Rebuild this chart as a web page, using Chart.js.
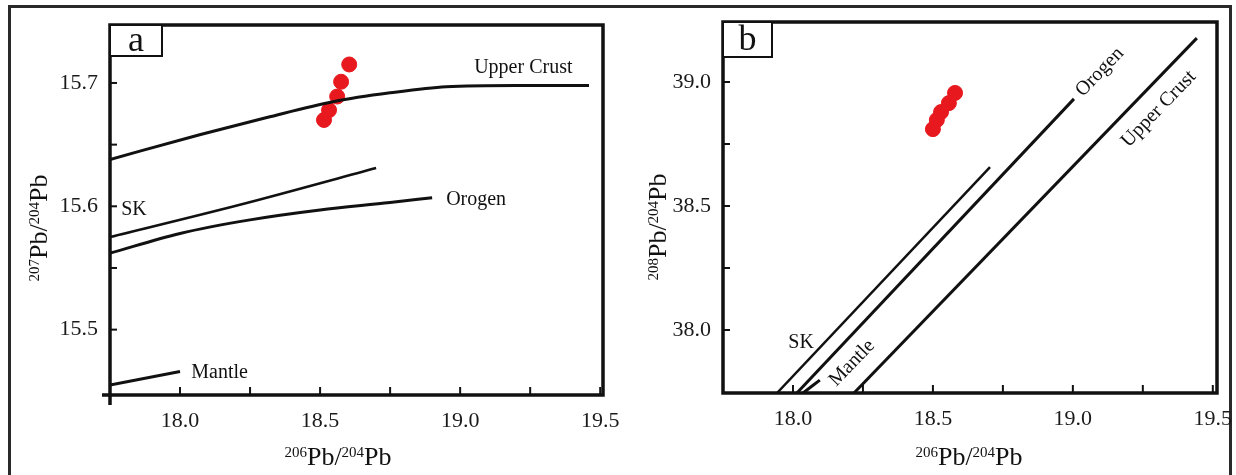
<!DOCTYPE html>
<html>
<head>
<meta charset="utf-8">
<script src="https://cdn.jsdelivr.net/npm/chart.js@4.4.0/dist/chart.umd.min.js"></script>
<style>
  html, body { margin: 0; padding: 0; background: #fff; }
  #wrap { position: relative; width: 1236px; height: 475px; overflow: hidden; }
  #border { position: absolute; left: 8px; top: 5px; width: 1218px; height: 480px; border: 3px solid #2a2a2a; }
  #ca { position: absolute; left: 0; top: 0; width: 630px; height: 475px; }
  #cb { position: absolute; left: 615px; top: 0; width: 621px; height: 475px; }
</style>
</head>
<body>
<div id="wrap">
  <div id="border"></div>
  <canvas id="ca" width="630" height="475"></canvas>
  <canvas id="cb" width="621" height="475"></canvas>
</div>
<script>
// tick values
const xTicks = [18.0, 18.5, 19.0, 19.5];
const xMinorTicks = [18.25, 18.75, 19.25];
const aYTicks = [15.5, 15.6, 15.7];
const aYMinorTicks = [15.55, 15.65];
const bYTicks = [38.0, 38.5, 39.0];
const bYMinorTicks = [38.25, 38.75];

// panel a : 206Pb/204Pb vs 207Pb/204Pb
const aSample206 = [18.514, 18.532, 18.561, 18.575, 18.604];
const aSample207 = [15.670, 15.678, 15.689, 15.701, 15.715];
const aUpperCrust206 = [17.75, 18.07, 18.31, 18.55, 18.75, 18.95, 19.2, 19.46];
const aUpperCrust207 = [15.638, 15.658, 15.672, 15.685, 15.692, 15.697, 15.698, 15.698];
const aSK206 = [17.75, 18.21, 18.70];
const aSK207 = [15.575, 15.601, 15.631];
const aOrogen206 = [17.75, 18.0, 18.25, 18.5, 18.75, 18.9];
const aOrogen207 = [15.562, 15.578, 15.589, 15.597, 15.603, 15.607];
const aMantle206 = [17.75, 18.0];
const aMantle207 = [15.455, 15.466];

// panel b : 206Pb/204Pb vs 208Pb/204Pb
const bSample206 = [18.500, 18.514, 18.529, 18.557, 18.579];
const bSample208 = [38.810, 38.847, 38.879, 38.915, 38.956];
const bUpperCrust206 = [18.218, 19.443];
const bUpperCrust208 = [37.746, 39.177];
const bSK206 = [17.943, 18.704];
const bSK208 = [37.746, 38.657];
const bOrogen206 = [18.014, 19.004];
const bOrogen208 = [37.746, 38.932];
const bMantle206 = [18.036, 18.096];
const bMantle208 = [37.746, 37.798];

const pts = (xs, ys) => xs.map((x, i) => ({ x: x, y: ys[i] }));

const SERIF = '"Liberation Serif", "DejaVu Serif", serif';
Chart.defaults.font.family = SERIF;
Chart.defaults.color = '#1a1a1a';

// title like 206Pb/204Pb with small raised mass numbers
function drawIsoTitle(ctx, parts, cx, baseY) {
  const big = '26px ' + SERIF, small = '15px ' + SERIF;
  let w = 0;
  parts.forEach(p => { ctx.font = p.sup ? small : big; w += ctx.measureText(p.t).width; });
  let x = cx - w / 2;
  ctx.textAlign = 'left';
  ctx.textBaseline = 'alphabetic';
  parts.forEach(p => {
    ctx.font = p.sup ? small : big;
    ctx.fillText(p.t, x, p.sup ? baseY - 8 : baseY);
    x += ctx.measureText(p.t).width;
  });
}

const paperPlugin = {
  id: 'paper',
  afterDraw(chart, args, opts) {
    const { ctx, chartArea: a, scales: { x, y } } = chart;
    ctx.save();
    ctx.strokeStyle = '#111';
    ctx.fillStyle = '#111';
    // ticks pointing into the plot
    ctx.lineWidth = 2;
    x.ticks.forEach(t => {
      const px = x.getPixelForValue(t.value);
      ctx.beginPath(); ctx.moveTo(px, a.bottom); ctx.lineTo(px, a.bottom - 8); ctx.stroke();
    });
    y.ticks.forEach(t => {
      const py = y.getPixelForValue(t.value);
      ctx.beginPath(); ctx.moveTo(a.left, py); ctx.lineTo(a.left + 7, py); ctx.stroke();
    });
    // frame
    ctx.lineWidth = 3.5;
    ctx.strokeRect(a.left, a.top, a.right - a.left, a.bottom - a.top);
    if (opts.cross) {
      ctx.beginPath();
      ctx.moveTo(a.left - 8, a.bottom); ctx.lineTo(a.left, a.bottom);
      ctx.moveTo(a.left, a.bottom); ctx.lineTo(a.left, a.bottom + 10);
      ctx.stroke();
    }
    // panel letter
    ctx.lineWidth = 2;
    ctx.fillStyle = '#fff';
    ctx.fillRect(a.left, a.top, opts.boxW, opts.boxH);
    ctx.strokeRect(a.left, a.top, opts.boxW, opts.boxH);
    ctx.fillStyle = '#111';
    ctx.font = '36px ' + SERIF;
    ctx.textAlign = 'center';
    ctx.textBaseline = 'middle';
    ctx.fillText(opts.letter, a.left + opts.boxW / 2, a.top + opts.boxH / 2 + 1);
    // curve names
    ctx.font = '20px ' + SERIF;
    opts.labels.forEach(l => {
      ctx.save();
      ctx.translate(x.getPixelForValue(l.x), y.getPixelForValue(l.y));
      ctx.rotate((l.rot || 0) * Math.PI / 180);
      ctx.textAlign = l.align || 'left';
      ctx.textBaseline = 'middle';
      ctx.fillText(l.text, 0, 0);
      ctx.restore();
    });
    // axis titles
    drawIsoTitle(ctx, opts.xTitle, opts.xTitleX, opts.xTitleY);
    ctx.save();
    ctx.translate(opts.yTitleX, opts.yTitleY);
    ctx.rotate(-Math.PI / 2);
    drawIsoTitle(ctx, opts.yTitle, 0, 0);
    ctx.restore();
    ctx.restore();
  }
};

function curve(data, width) {
  return {
    type: 'line', data: data, showLine: true, borderColor: '#111', borderWidth: width || 3,
    pointRadius: 0, cubicInterpolationMode: 'monotone', fill: false
  };
}

function makePanel(id, cfg) {
  const tickFont = { size: 22 };
  return new Chart(document.getElementById(id), {
    type: 'scatter',
    data: {
      datasets: [
        curve(cfg.lines[0]), curve(cfg.lines[1], 2.5), curve(cfg.lines[2]), curve(cfg.lines[3]),
        {
          type: 'scatter', data: cfg.samples, backgroundColor: '#e8191e', borderColor: '#e8191e',
          pointRadius: 7.5, pointHoverRadius: 7.5
        }
      ]
    },
    options: {
      responsive: false,
      animation: false,
      layout: { padding: cfg.padding },
      plugins: {
        legend: { display: false },
        tooltip: { enabled: false },
        paper: cfg.paper
      },
      scales: {
        x: {
          type: 'linear', min: cfg.xMin, max: cfg.xMax,
          afterFit: s => { s.height = cfg.xHeight; s.paddingLeft = 0; s.paddingRight = 0; },
          afterBuildTicks: s => {
            s.ticks = xTicks.concat(xMinorTicks).sort((p, q) => p - q).map(v => ({ value: v }));
          },
          ticks: {
            font: tickFont, padding: 13, maxRotation: 0, autoSkip: false,
            callback: v => xTicks.includes(v) ? v.toFixed(1) : ''
          },
          grid: { display: false, drawTicks: false },
          border: { display: false }
        },
        y: {
          type: 'linear', min: cfg.yMin, max: cfg.yMax,
          afterFit: s => { s.width = cfg.yWidth; s.paddingTop = 0; s.paddingBottom = 0; },
          afterBuildTicks: s => {
            s.ticks = cfg.yTicks.concat(cfg.yMinor).sort((p, q) => p - q).map(v => ({ value: v }));
          },
          ticks: {
            font: tickFont, padding: 12, autoSkip: false,
            callback: v => cfg.yTicks.includes(v) ? v.toFixed(1) : ''
          },
          grid: { display: false, drawTicks: false },
          border: { display: false }
        }
      }
    },
    plugins: [paperPlugin]
  });
}

const title206 = [{ t: '206', sup: true }, { t: 'Pb/' }, { t: '204', sup: true }, { t: 'Pb' }];

makePanel('ca', {
  xMin: 17.75, xMax: 19.51, yMin: 15.447, yMax: 15.747,
  yTicks: aYTicks, yMinor: aYMinorTicks,
  padding: { left: 0, right: 27, top: 25, bottom: 0 },
  xHeight: 80, yWidth: 110,
  lines: [pts(aUpperCrust206, aUpperCrust207), pts(aSK206, aSK207), pts(aOrogen206, aOrogen207), pts(aMantle206, aMantle207)],
  samples: pts(aSample206, aSample207),
  paper: {
    letter: 'a', boxW: 52, boxH: 31, cross: true,
    xTitle: title206, xTitleX: 338, xTitleY: 465,
    yTitle: [{ t: '207', sup: true }, { t: 'Pb/' }, { t: '204', sup: true }, { t: 'Pb' }],
    yTitleX: 47, yTitleY: 228,
    labels: [
      { text: 'Upper Crust', x: 19.05, y: 15.712 },
      { text: 'Orogen', x: 18.95, y: 15.605 },
      { text: 'SK', x: 17.79, y: 15.597 },
      { text: 'Mantle', x: 18.04, y: 15.465 }
    ]
  }
});

makePanel('cb', {
  xMin: 17.75, xMax: 19.515, yMin: 37.746, yMax: 39.242,
  yTicks: bYTicks, yMinor: bYMinorTicks,
  padding: { left: 0, right: 19, top: 22, bottom: 0 },
  xHeight: 82, yWidth: 108,
  lines: [pts(bUpperCrust206, bUpperCrust208), pts(bSK206, bSK208), pts(bOrogen206, bOrogen208), pts(bMantle206, bMantle208)],
  samples: pts(bSample206, bSample208),
  paper: {
    letter: 'b', boxW: 49, boxH: 35, cross: false,
    xTitle: title206, xTitleX: 354, xTitleY: 465,
    yTitle: [{ t: '208', sup: true }, { t: 'Pb/' }, { t: '204', sup: true }, { t: 'Pb' }],
    yTitleX: 51, yTitleY: 227,
    labels: [
      { text: 'Orogen', x: 19.096, y: 39.04, rot: -46, align: 'center' },
      { text: 'Upper Crust', x: 19.307, y: 38.891, rot: -46, align: 'center' },
      { text: 'SK', x: 18.029, y: 37.948, align: 'center' },
      { text: 'Mantle', x: 18.211, y: 37.867, rot: -46, align: 'center' }
    ]
  }
});
</script>
</body>
</html>
